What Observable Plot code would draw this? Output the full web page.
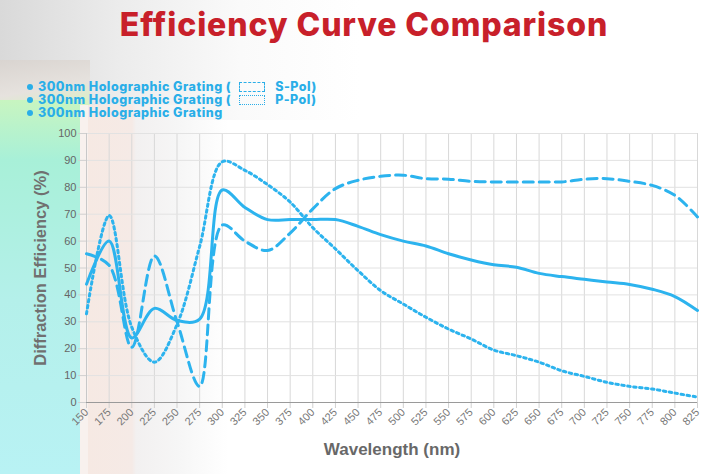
<!DOCTYPE html>
<html>
<head>
<meta charset="utf-8">
<script src="https://cdn.jsdelivr.net/npm/d3@7"></script>
<script src="https://cdn.jsdelivr.net/npm/@observablehq/plot@0.6"></script>
<style>
  html, body { margin:0; padding:0; width:728px; height:474px; overflow:hidden; background:#fff; }
  #bg { position:absolute; left:0; top:0; width:728px; height:474px; }
  .layer { position:absolute; }
  #title { position:absolute; left:0; top:5px; width:728px; text-align:center; font-family:Inter, "Open Sans", sans-serif; font-weight:800; font-size:32px; color:#c8202a; letter-spacing:0.9px; }
  #legend { position:absolute; left:27px; top:80px; font-family:Inter, "Open Sans", sans-serif; font-weight:800; font-size:12.5px; color:#2aaee8; line-height:13px; letter-spacing:0.5px; }
  #legend .row { white-space:nowrap; height:13px; }
  #legend .dot { display:inline-block; width:6px; height:6px; border-radius:50%; background:#2aaee8; margin-right:5px; vertical-align:1px; }
  #legend .sw { display:inline-block; width:24px; height:8px; margin:0 10px 0 8px; vertical-align:-1px; }
  #chart { position:absolute; left:0; top:120px; }
</style>
</head>
<body>
<div id="bg">
  <div class="layer" style="left:0;top:0;width:728px;height:120px;background:linear-gradient(90deg,#d9d9d9 0px,#ececec 120px,#fafafa 240px,rgba(255,255,255,0) 360px);"></div>
  <div class="layer" style="left:0;top:60px;width:90px;height:45px;background:linear-gradient(170deg,#d9d4d0 0%,#e6e2de 60%,#d8f2c0 100%);"></div>
  <div class="layer" style="left:0;top:100px;width:80px;height:374px;background:linear-gradient(180deg,#c8f5c0 0px,#a8f0d8 60px,#b4f0ea 200px,#b8f2f4 374px);"></div>
  <div class="layer" style="left:80px;top:105px;width:8px;height:369px;background:#f8f1ee;"></div>
  <div class="layer" style="left:88px;top:105px;width:140px;height:369px;background:linear-gradient(90deg,#f6e9e3 0px,#f5eae6 44px,#f2f0f0 48px,#f6f6f6 90px,rgba(255,255,255,0) 140px);"></div>
</div>
<div id="title">Efficiency Curve Comparison</div>
<div id="legend">
  <div class="row"><span class="dot"></span>300nm Holographic Grating (<span class="sw" style="border:1px dashed #2aaee8;"></span>S-Pol)</div>
  <div class="row"><span class="dot"></span>300nm Holographic Grating (<span class="sw" style="border:1px dotted #2aaee8;"></span>P-Pol)</div>
  <div class="row"><span class="dot"></span>300nm Holographic Grating</div>
</div>
<div id="chart"></div>
<script>
const wavelengths = [150,175,200,225,250,275,300,325,350,375,400,425,450,475,500,525,550,575,600,625,650,675,700,725,750,775,800,825];
const sPol        = [55.3,51,20.5,54.5,30,6,66,60,56.5,63,72,79.5,82.6,84.1,84.5,83.2,83,82.2,82,82,82,82,83,83.2,82.2,80.7,77,69];
const pPol        = [33,69.5,28,15,29,58,89.5,86.3,81,74.5,65,57.1,49,41.6,36.6,31.7,27.3,23.6,19.5,17.4,15,11.8,9.7,7.5,6,5,3.5,2];
const unpolarized = [44,60,24,35,30.5,31,79,72.5,68,68,68,68,65.5,62.4,60,58.2,55.3,53,51.2,50.3,48,46.8,45.8,44.8,43.9,42.1,39.4,34.2];
const seriesNames = ["300nm Holographic Grating (S-Pol)", "300nm Holographic Grating (P-Pol)", "300nm Holographic Grating"];
const yTicks = [0,10,20,30,40,50,60,70,80,90,100];
const xLabel = "Wavelength (nm)";
const yLabel = "Diffraction Efficiency (%)";

const lineColor = "#2cb3ee";
const toRows = (vals) => wavelengths.map((w, i) => ({w, v: vals[i]}));

const chart = Plot.plot({
  width: 728,
  height: 354,
  marginLeft: 86,
  marginRight: 31,
  marginTop: 13,
  marginBottom: 72,
  style: {background: "transparent", fontFamily: "'Liberation Sans', Arial, sans-serif", fontSize: "11px", color: "#666", overflow: "visible"},
  x: {type: "linear", domain: [150, 825]},
  y: {domain: [0, 100]},
  marks: [
    Plot.gridX(wavelengths, {stroke: "#d8d8d8", strokeOpacity: 1, strokeWidth: 1}),
    Plot.gridY(yTicks, {stroke: "#e2e2e2", strokeOpacity: 1, strokeWidth: 1}),
    Plot.axisY(yTicks, {tickSize: 8, tickPadding: 2, stroke: "#d0d0d0", fill: "#666", fontSize: 11, label: null}),
    Plot.axisX(wavelengths, {tickSize: 6, tickRotate: -45, tickPadding: 2, stroke: "#d0d0d0", fill: "#777", fontSize: 11, label: null}),
    Plot.ruleY([0], {stroke: "#9a9a9a", strokeWidth: 1}),
    Plot.ruleX([150], {stroke: "#c8c8c8", strokeWidth: 1}),
    Plot.line(toRows(sPol), {x: "w", y: "v", curve: "catmull-rom", stroke: lineColor, strokeWidth: 3, strokeDasharray: "10,6"}),
    Plot.line(toRows(pPol), {x: "w", y: "v", curve: "catmull-rom", stroke: lineColor, strokeWidth: 3, strokeDasharray: "2.5,3.5"}),
    Plot.line(toRows(unpolarized), {x: "w", y: "v", curve: "catmull-rom", stroke: lineColor, strokeWidth: 3}),
    Plot.text([xLabel], {frameAnchor: "bottom", dy: 52, fontSize: 17, fontWeight: "bold", fill: "#686868"}),
    Plot.text([yLabel], {frameAnchor: "left", textAnchor: "middle", rotate: -90, dx: -46, fontSize: 16.5, fontWeight: "bold", fill: "#707070"})
  ]
});
document.getElementById("chart").appendChild(chart);
</script>
</body>
</html>
